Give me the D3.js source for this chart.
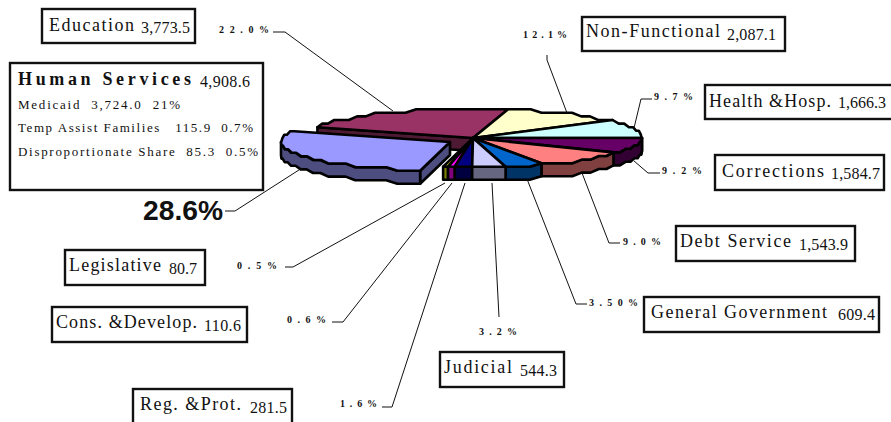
<!DOCTYPE html>
<html>
<head>
<meta charset="utf-8">
<script src="https://cdn.jsdelivr.net/npm/d3@7/dist/d3.min.js"></script>
<style>
  html, body { margin: 0; padding: 0; background: #fff; }
  svg { display: block; }
  text { font-family: "Liberation Serif", serif; fill: #111; white-space: pre; }
</style>
</head>
<body>
<svg id="chart" width="891" height="422"></svg>
<script>
// General fund appropriations, in millions, clockwise from the top of the pie.
const categories = ["Non-Functional", "Health &Hosp.", "Corrections", "Debt Service", "General Government",
  "Judicial", "Reg. &Prot.", "Cons. &Develop.", "Legislative", "Human Services", "Education"];
const amounts = [2087.1, 1666.3, 1584.7, 1543.9, 609.4, 544.3, 281.5, 110.6, 80.7, 4908.6, 3773.5];
const amountLabels = ["2,087.1", "1,666.3", "1,584.7", "1,543.9", "609.4", "544.3", "281.5", "110.6", "80.7", "4,908.6", "3,773.5"];
const shareLabels = ["12.1%", "9.7%", "9.2%", "9.0%", "3.50%", "3.2%", "1.6%", "0.6%", "0.5%", "28.6%", "22.0%"];
const topColors = ["#ffffcc", "#ccffff", "#660066", "#ff8080", "#0066cc", "#ccccff", "#000080", "#ff00ff", "#ffff00", "#9999ff", "#993366"];
const sideColors = ["#808066", "#668080", "#330033", "#804040", "#003366", "#666680", "#000040", "#800080", "#808000", "#4d4d80", "#4d1933"];

const humanServicesDetail = ["Medicaid  3,724.0  21%", "Temp Assist Families   115.9  0.7%", "Disproportionate Share  85.3  0.5%"];

// Placement of the callouts: box, name, amount, share text and leader polyline.
const callouts = [
  { box: [582, 17, 203, 34], nameX: 586, nameY: 37, nameW: 134, valX: 727, valY: 40, valW: 49,
    shareX: 523, shareY: 38, shareW: 44, leader: [[547, 55], [547, 60], [567, 113]] },
  { box: [705, 85, 190, 34], nameX: 709, nameY: 107, nameW: 122, valX: 838, valY: 108, valW: 48,
    shareX: 654, shareY: 100, shareW: 39, leader: [[652, 99], [641, 99], [634, 128]] },
  { box: [715, 155, 169, 35], nameX: 722, nameY: 177, nameW: 102, valX: 831, valY: 179, valW: 49,
    shareX: 662, shareY: 174, shareW: 40, leader: [[660, 173], [648, 173], [634, 161]] },
  { box: [676, 226, 179, 35], nameX: 680, nameY: 247, nameW: 111, valX: 799, valY: 250, valW: 49,
    shareX: 623, shareY: 245, shareW: 38, leader: [[620, 243], [609, 243], [582, 173]] },
  { box: [644, 297, 235, 35], nameX: 651, nameY: 318, nameW: 176, valX: 838, valY: 320, valW: 37,
    shareX: 589, shareY: 306, shareW: 49, leader: [[587, 304], [576, 304], [527, 179]] },
  { box: [440, 352, 124, 35], nameX: 444, nameY: 373, nameW: 68, valX: 520, valY: 376, valW: 37,
    shareX: 479, shareY: 335, shareW: 38, leader: [[499, 317], [492, 183]] },
  { box: [133, 389, 159, 40], nameX: 140, nameY: 410, nameW: 101, valX: 250, valY: 413, valW: 37,
    shareX: 340, shareY: 407, shareW: 37, leader: [[382, 407], [392, 407], [465, 183]] },
  { box: [52, 307, 195, 35], nameX: 56, nameY: 328, nameW: 141, valX: 204, valY: 331, valW: 37,
    shareX: 287, shareY: 323, shareW: 39, leader: [[332, 322], [343, 322], [452, 183]] },
  { box: [65, 250, 140, 35], nameX: 69, nameY: 271, nameW: 92, valX: 169, valY: 274, valW: 28,
    shareX: 237, shareY: 269, shareW: 40, leader: [[285, 267], [293, 267], [445, 183]] },
  { box: [10, 63, 253, 127], nameX: 18, nameY: 85, nameW: 173, valX: 200, valY: 87, valW: 50,
    shareX: 143, shareY: 220, shareW: 80, leader: [[225, 211], [235, 211], [302, 168]] },
  { box: [42, 9, 153, 34], nameX: 49, nameY: 31, nameW: 85, valX: 141, valY: 33, valW: 49,
    shareX: 219, shareY: 33, shareW: 50, leader: [[273, 32], [285, 32], [393, 111]] }
];

const svg = d3.select("#chart");

// Projected pie geometry.
const cx = 473, cy = 138, rx = 169, ry = 29, depth = 13;
const explodeIndex = categories.indexOf("Human Services");
const explodeOffset = [-23, 4];

// Pie angles: d3 measures from 12 o'clock, clockwise.
const startDeg = 12;
const arcs = d3.pie().sort(null).value(d => d)
  .startAngle(startDeg * Math.PI / 180)
  .endAngle((startDeg + 360) * Math.PI / 180)(amounts);

const sx = d3.scaleLinear().domain([-1, 1]).range([-rx, rx]);
const sy = d3.scaleLinear().domain([-1, 1]).range([-ry, ry]);

// The rim is stepped on a coarse grid, which gives the wavy outline of the old plot driver.
const stepY = 3.6;
function rim(a, o) {
  const x = sx(Math.sin(a)), y = -sy(Math.cos(a));
  return [cx + o[0] + x, cy + o[1] + Math.round(y / stepY) * stepY];
}
function rimPoints(a0, a1, o) {
  const n = Math.max(1, Math.round((a1 - a0) / (4 * Math.PI / 180)));
  return d3.range(n + 1).map(i => rim(a0 + (a1 - a0) * i / n, o));
}
const line = d3.line();
const down = p => [p[0], p[1] + depth];

const g = svg.append("g").attr("stroke", "#000").attr("stroke-width", 2.6).attr("stroke-linejoin", "round");

function drawSlice(i) {
  const d = arcs[i];
  const o = i === explodeIndex ? explodeOffset : [0, 0];
  const apex = [cx + o[0], cy + o[1]];
  const first = rim(d.startAngle, o);

  // radial walls: the exploded wedge and the face it leaves exposed on the next slice
  if (i === explodeIndex || i === explodeIndex + 1) {
    g.append("path").attr("fill", sideColors[i])
      .attr("d", line([apex, first, down(first), down(apex)]) + "Z");
  }

  // outer wall: the part of the rim on the near half of the ellipse (90 to 270 degrees)
  const a0 = Math.max(d.startAngle, Math.PI / 2), a1 = Math.min(d.endAngle, 1.5 * Math.PI);
  if (a1 > a0) {
    const front = rimPoints(a0, a1, o);
    g.append("path").attr("fill", sideColors[i])
      .attr("d", line(front.concat(front.map(down).reverse())) + "Z");
  }

  // top face
  const top = rimPoints(d.startAngle, d.endAngle, o);
  g.append("path").attr("fill", topColors[i])
    .attr("d", line([apex].concat(top)) + "Z");
}

// Back slices first, the exploded wedge last so it overlaps the wall behind it.
const order = [10, 0, 1, 2, 3, 4, 8, 7, 6, 5, 9];
order.forEach(drawSlice);

// Callouts
const layer = svg.append("g");
function fitted(sel, x, y, w, size, txt, bold) {
  return sel.append("text").attr("x", x).attr("y", y).attr("font-size", size)
    .attr("font-weight", bold ? 700 : 400)
    .attr("textLength", w).attr("lengthAdjust", "spacing").text(txt);
}

callouts.forEach((c, i) => {
  const isHS = i === explodeIndex;
  layer.append("path").attr("fill", "none").attr("stroke", "#111").attr("stroke-width", 1)
    .attr("d", line(c.leader));

  layer.append("rect").attr("x", c.box[0]).attr("y", c.box[1]).attr("width", c.box[2]).attr("height", c.box[3])
    .attr("fill", "#fff").attr("stroke", "#111").attr("stroke-width", 2.4);

  fitted(layer, c.nameX, c.nameY, c.nameW, 18, categories[i], isHS);
  fitted(layer, c.valX, c.valY, c.valW, 16, amountLabels[i], false);

  if (isHS) {
    layer.append("text").attr("x", c.shareX).attr("y", c.shareY).attr("font-size", 27)
      .attr("font-weight", 700).style("font-family", '"Liberation Sans", sans-serif')
      .attr("textLength", c.shareW).attr("lengthAdjust", "spacingAndGlyphs").text(shareLabels[i]);
  } else {
    fitted(layer, c.shareX, c.shareY, c.shareW, 10, shareLabels[i], true);
  }
});

// Human Services breakdown lines
const detailY = [109, 132, 156], detailW = [162, 235, 240];
humanServicesDetail.forEach((t, i) => fitted(layer, 18, detailY[i], detailW[i], 13, t, false));
</script>
</body>
</html>
